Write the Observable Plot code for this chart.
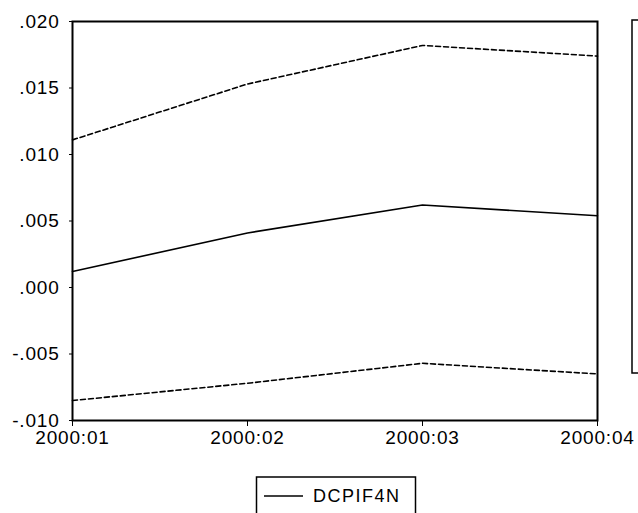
<!DOCTYPE html>
<html>
<head>
<meta charset="utf-8">
<script src="https://cdn.jsdelivr.net/npm/d3@7"></script>
<script src="https://cdn.jsdelivr.net/npm/@observablehq/plot@0.6"></script>
<style>
  html, body { margin: 0; padding: 0; background: #fff; }
  #chart { position: relative; width: 638px; height: 513px; overflow: hidden; }
  svg { display: block; }
</style>
</head>
<body>
<div id="chart"></div>
<script>
const periods = ["2000:01", "2000:02", "2000:03", "2000:04"];
const forecast = [0.0012, 0.0041, 0.0062, 0.0054];
const upperBand = [0.0111, 0.0153, 0.0182, 0.0174];
const lowerBand = [-0.0085, -0.0072, -0.0057, -0.0065];
const yTicks = [-0.010, -0.005, 0.000, 0.005, 0.010, 0.015, 0.020];
const seriesName = "DCPIF4N";

const idx = periods.map((_, i) => i);
const fmt = v => {
  const a = Math.abs(v) < 1e-12 ? 0 : v;
  const s = Math.abs(a).toFixed(3).replace(/^0\./, ".");
  return (a < 0 ? "-" : "") + s;
};
const mk = arr => idx.map(i => ({i, v: arr[i]}));

const svg = Plot.plot({
  width: 638,
  height: 513,
  marginLeft: 72,
  marginRight: 41,
  marginTop: 21,
  marginBottom: 93,
  style: {fontFamily: "'Liberation Sans', Arial, sans-serif", fontSize: "19px", color: "#000", background: "#fff", letterSpacing: "0.8px"},
  x: {domain: [0, 3], label: null},
  y: {domain: [-0.010, 0.020], label: null},
  marks: [
    Plot.axisX({ticks: idx, tickFormat: i => periods[i], tickSize: 6, tickPadding: 4, stroke: "#000", fontSize: 19}),
    Plot.axisY({ticks: yTicks, tickFormat: fmt, tickSize: 3, tickPadding: 10, stroke: "#000", fontSize: 19}),
    Plot.lineY(mk(upperBand), {x: "i", y: "v", stroke: "#000", strokeWidth: 1.6, strokeDasharray: "5,3"}),
    Plot.lineY(mk(lowerBand), {x: "i", y: "v", stroke: "#000", strokeWidth: 1.6, strokeDasharray: "5,3"}),
    Plot.lineY(mk(forecast), {x: "i", y: "v", stroke: "#000", strokeWidth: 1.6}),
    Plot.frame({stroke: "#000", strokeWidth: 2})
  ]
});
document.getElementById("chart").appendChild(svg);

// Legend box below the plot and partially visible box on the right
const g = d3.select(svg).append("g").attr("fill", "none").attr("stroke", "#000");
g.append("rect").attr("x", 256.5).attr("y", 477).attr("width", 159).attr("height", 60).attr("stroke-width", 1.5);
g.append("line").attr("x1", 264).attr("x2", 303).attr("y1", 496).attr("y2", 496).attr("stroke-width", 1.6);
d3.select(svg).append("text")
  .attr("x", 313).attr("y", 502)
  .attr("fill", "#000")
  .attr("text-anchor", "start")
  .style("font-family", "'Liberation Sans', Arial, sans-serif")
  .style("font-size", "18px")
  .style("letter-spacing", "1.5px")
  .text(seriesName);
g.append("rect").attr("x", 632).attr("y", 20).attr("width", 30).attr("height", 353).attr("stroke-width", 1.5);
</script>
</body>
</html>
